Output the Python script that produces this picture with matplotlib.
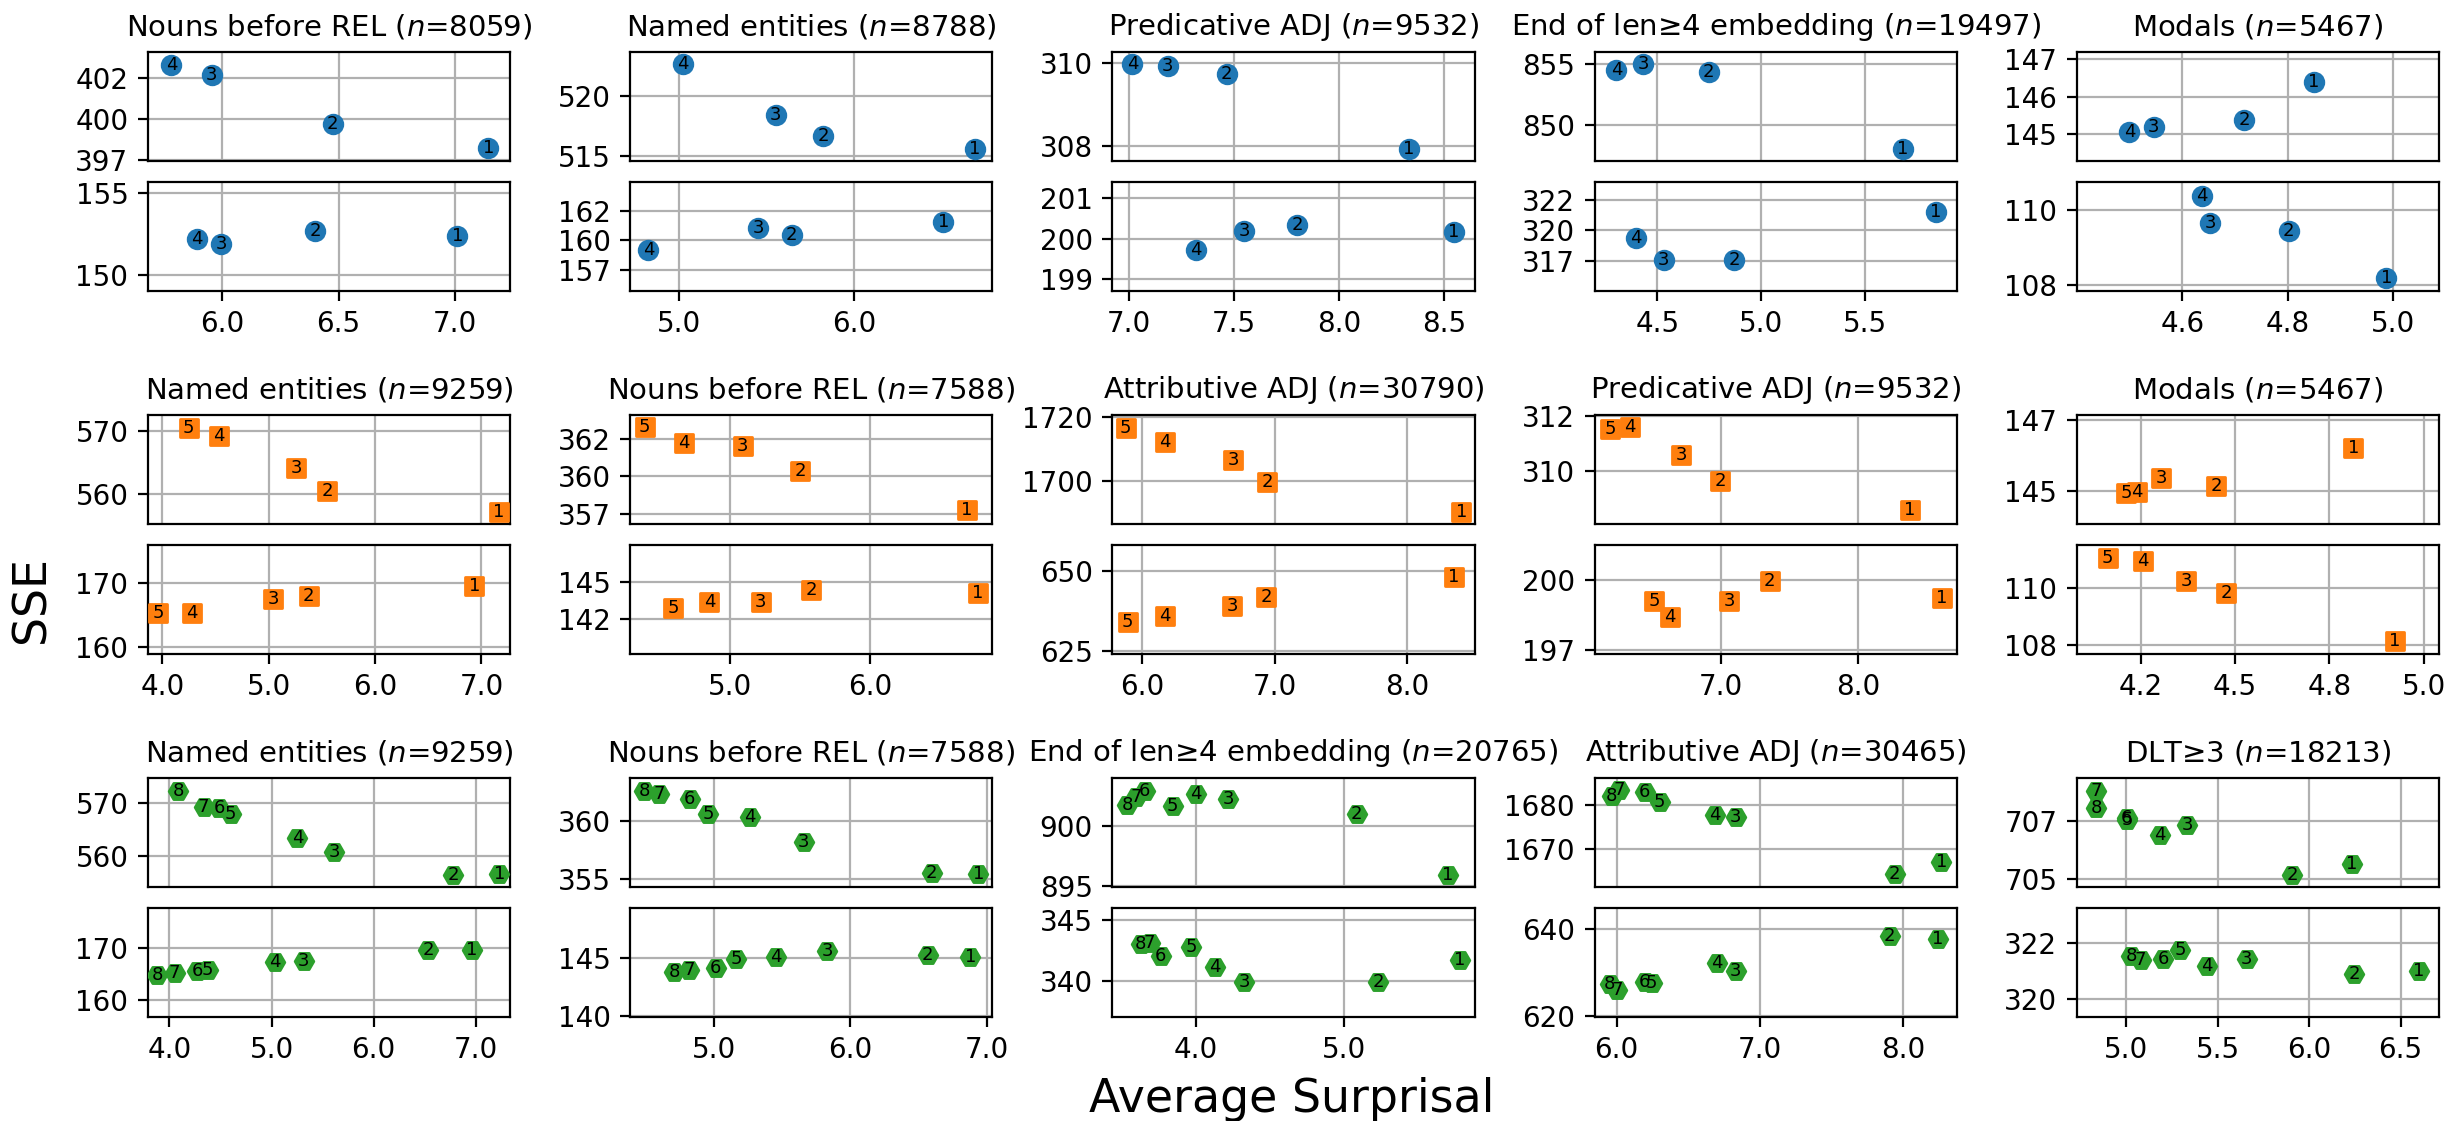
import matplotlib
matplotlib.use("Agg")
import matplotlib.pyplot as plt
from matplotlib.gridspec import GridSpec, GridSpecFromSubplotSpec
from matplotlib.ticker import FormatStrFormatter

# ---------- данные ----------------------------------------------------------
# точки в порядке меток 1..N
R1_TITLES = ["Nouns before REL", "Named entities", "Predicative ADJ",
             "End of len≥4 embedding", "Modals"]
R1_N = [8059, 8788, 9532, 19497, 5467]
R1_TOP_X = [[7.142, 6.475, 5.956, 5.784], [6.690, 5.824, 5.554, 5.025],
            [8.333, 7.463, 7.183, 7.015], [5.681, 4.746, 4.431, 4.302],
            [4.849, 4.718, 4.546, 4.500]]
R1_TOP_Y = [[398.55, 399.76, 402.12, 402.63], [515.54, 516.63, 518.37, 522.59],
            [307.94, 309.74, 309.94, 309.97], [848.06, 854.35, 855.00, 854.47],
            [146.39, 145.39, 145.20, 145.06]]
R1_BOT_X = [[7.010, 6.401, 5.998, 5.894], [6.510, 5.644, 5.454, 4.828],
            [8.547, 7.800, 7.547, 7.318], [5.842, 4.871, 4.531, 4.398],
            [4.987, 4.802, 4.653, 4.638]]
R1_BOT_Y = [[152.35, 152.69, 151.91, 152.19], [161.25, 160.34, 160.87, 159.33],
            [200.15, 200.33, 200.19, 199.72], [321.18, 318.05, 318.05, 319.48],
            [108.19, 109.45, 109.66, 110.38]]

R2_TITLES = ["Named entities", "Nouns before REL", "Attributive ADJ",
             "Predicative ADJ", "Modals"]
R2_N = [9259, 7588, 30790, 9532, 5467]
R2_TOP_X = [[7.166, 5.548, 5.261, 4.533, 4.246], [6.685, 5.498, 5.089, 4.670, 4.392],
            [8.406, 6.944, 6.688, 6.173, 5.875], [8.379, 6.995, 6.709, 6.335, 6.188],
            [4.814, 4.450, 4.304, 4.240, 4.212]]
R2_TOP_Y = [[557.20, 560.42, 564.05, 569.10, 570.42], [358.19, 360.27, 361.62, 361.81, 362.65],
            [1690.1, 1699.5, 1706.5, 1712.0, 1716.5], [308.53, 309.63, 310.58, 311.60, 311.53],
            [146.21, 145.16, 145.37, 144.99, 144.94]]
R2_BOT_X = [[6.935, 5.377, 5.045, 4.281, 3.960], [6.766, 5.577, 5.220, 4.854, 4.596],
            [8.350, 6.936, 6.680, 6.169, 5.891], [8.610, 7.355, 7.059, 6.626, 6.513],
            [4.923, 4.477, 4.371, 4.256, 4.162]]
R2_BOT_Y = [[169.43, 167.98, 167.41, 165.28, 165.28], [144.23, 144.42, 143.65, 143.65, 143.22],
            [648.0, 641.8, 639.2, 635.9, 634.0], [199.36, 199.95, 199.23, 198.66, 199.23],
            [108.13, 109.82, 110.26, 110.94, 111.05]]

R3_TITLES = ["Named entities", "Nouns before REL", "End of len≥4 embedding",
             "Attributive ADJ", "DLT≥3"]
R3_N = [9259, 7588, 20765, 30465, 18213]
R3_TOP_X = [[7.230, 6.776, 5.615, 5.254, 4.601, 4.486, 4.335, 4.089],
            [6.934, 6.593, 5.660, 5.267, 4.961, 4.826, 4.602, 4.494],
            [5.701, 5.086, 4.219, 4.004, 3.845, 3.658, 3.601, 3.540],
            [8.269, 7.942, 6.833, 6.686, 6.302, 6.197, 6.016, 5.967],
            [6.235, 5.907, 5.333, 5.184, 5.003, 5.003, 4.837, 4.837]]
R3_TOP_Y = [[556.54, 556.42, 560.69, 563.27, 567.92, 569.12, 569.25, 572.33],
            [355.43, 355.49, 358.21, 360.43, 360.68, 361.98, 362.41, 362.65],
            [895.94, 901.03, 902.31, 902.67, 901.72, 902.97, 902.44, 901.81],
            [1667.0, 1664.2, 1677.3, 1677.8, 1680.8, 1683.0, 1683.5, 1682.2],
            [705.53, 705.14, 706.88, 706.51, 707.05, 707.12, 708.08, 707.47]]
R3_BOT_X = [[6.960, 6.532, 5.314, 5.031, 4.376, 4.272, 4.052, 3.880],
            [6.877, 6.563, 5.829, 5.456, 5.167, 5.017, 4.823, 4.713],
            [5.780, 5.230, 4.327, 4.129, 3.971, 3.766, 3.691, 3.629],
            [8.243, 7.908, 6.832, 6.702, 6.246, 6.197, 6.002, 5.951],
            [6.599, 6.247, 5.658, 5.440, 5.294, 5.201, 5.079, 5.026]]
R3_BOT_Y = [[169.62, 169.62, 167.56, 167.37, 165.77, 165.58, 165.26, 164.74],
            [145.06, 145.25, 145.62, 145.06, 144.94, 144.14, 143.95, 143.83],
            [341.73, 339.86, 339.92, 341.13, 342.77, 342.06, 343.13, 343.02],
            [637.78, 638.46, 630.43, 632.14, 627.52, 627.86, 625.98, 627.35],
            [321.01, 320.88, 321.41, 321.18, 321.72, 321.41, 321.38, 321.52]]

# оси: пределы и деления
XLIMS = [[(5.683, 7.236), (4.724, 6.789), (6.919, 8.645), (4.197, 5.942), (4.400, 5.087)],
         [(3.864, 7.271), (4.289, 6.868), (5.775, 8.507), (6.076, 8.721), (4.080, 5.041)],
         [(3.791, 7.335), (4.391, 7.037), (3.439, 5.881), (5.846, 8.377), (4.729, 6.710)]]
XTICKS = [[[6.0, 6.5, 7.0], [5.0, 6.0], [7.0, 7.5, 8.0, 8.5], [4.5, 5.0, 5.5], [4.6, 4.8, 5.0]],
          [[4.0, 5.0, 6.0, 7.0], [5.0, 6.0], [6.0, 7.0, 8.0], [7.0, 8.0], [4.25, 4.5, 4.75, 5.0]],
          [[4.0, 5.0, 6.0, 7.0], [5.0, 6.0, 7.0], [4.0, 5.0], [6.0, 7.0, 8.0], [5.0, 5.5, 6.0, 6.5]]]
TOP_YLIMS = [[(397.94, 403.25), (514.58, 523.6), (307.64, 310.27), (847.12, 855.94), (144.29, 147.18)],
             [(555.26, 572.47), (357.45, 363.3), (1686.5, 1720.5), (308.03, 312.05), (144.08, 147.14)],
             [(554.1, 574.7), (354.32, 363.77), (894.92, 904.03), (1661.17, 1686.33), (704.71, 708.52)]]
BOT_YLIMS = [[(149.06, 155.64), (156.6, 163.93), (198.71, 201.39), (316.02, 323.18), (107.85, 110.76)],
             [(158.91, 175.85), (140.19, 147.45), (624.2, 658.1), (197.35, 201.24), (107.68, 111.51)],
             [(156.8, 177.63), (139.95, 149.26), (337.03, 345.96), (619.66, 644.96), (319.37, 323.22)]]
TOP_YTICKS = [[[398, 400, 402], [515, 520], [308, 310], [850, 855], [145, 146, 147]],
              [[560, 570], [358, 360, 362], [1700, 1720], [310, 312], [145, 147]],
              [[560, 570], [355, 360], [895, 900], [1670, 1680], [705, 707]]]
TOP_YLABELS = [[["397", "400", "402"], ["515", "520"], ["308", "310"], ["850", "855"], ["145", "146", "147"]],
               [["560", "570"], ["357", "360", "362"], ["1700", "1720"], ["310", "312"], ["145", "147"]],
               [["560", "570"], ["355", "360"], ["895", "900"], ["1670", "1680"], ["705", "707"]]]
BOT_YTICKS = [[[150, 155], [158, 160, 162], [199, 200, 201], [318, 320, 322], [108, 110]],
              [[160, 170], [142.5, 145], [625, 650], [197.5, 200], [108, 110]],
              [[160, 170], [140, 145], [340, 345], [620, 640], [320, 322]]]
BOT_YLABELS = [[["150", "155"], ["157", "160", "162"], ["199", "200", "201"], ["317", "320", "322"], ["108", "110"]],
               [["160", "170"], ["142", "145"], ["625", "650"], ["197", "200"], ["108", "110"]],
               [["160", "170"], ["140", "145"], ["340", "345"], ["620", "640"], ["320", "322"]]]

ROWS = [
    (R1_TITLES, R1_N, R1_TOP_X, R1_TOP_Y, R1_BOT_X, R1_BOT_Y),
    (R2_TITLES, R2_N, R2_TOP_X, R2_TOP_Y, R2_BOT_X, R2_BOT_Y),
    (R3_TITLES, R3_N, R3_TOP_X, R3_TOP_Y, R3_BOT_X, R3_BOT_Y),
]
MARKERS = ["o", "s", "H"]
COLORS = ["tab:blue", "tab:orange", "tab:green"]


# ---------- построение -------------------------------------------------------
def _scatter_labels(ax, xs, ys, marker, color):
    ax.scatter(xs, ys, s=45, marker=marker, color=color, zorder=3)
    for i, (x, y) in enumerate(zip(xs, ys)):
        ax.text(x, y, str(i + 1), fontsize=6.5, ha="center", va="center", zorder=4)


fig = plt.figure(figsize=(12.265, 5.605), dpi=200)
outer = GridSpec(3, 5, figure=fig, left=0.0603, right=0.9943, top=0.9536,
                 bottom=0.0928, wspace=0.331, hspace=0.519)

for r, (titles, ns, tx, ty, bx, by) in enumerate(ROWS):
    for c in range(5):
        inner = GridSpecFromSubplotSpec(2, 1, subplot_spec=outer[r, c], hspace=0.193)
        ax_t = fig.add_subplot(inner[0])
        ax_b = fig.add_subplot(inner[1], sharex=ax_t)

        _scatter_labels(ax_t, tx[c], ty[c], MARKERS[r], COLORS[r])
        _scatter_labels(ax_b, bx[c], by[c], MARKERS[r], COLORS[r])

        ax_t.set_title(f"{titles[c]} ($n$={ns[c]})", fontsize=10.5)
        ax_b.set_xticks(XTICKS[r][c])
        ax_b.set_xlim(*XLIMS[r][c])
        ax_b.xaxis.set_major_formatter(FormatStrFormatter("%.1f"))
        ax_t.tick_params(axis="x", bottom=False, labelbottom=False)

        ax_t.set_ylim(*TOP_YLIMS[r][c])
        ax_t.set_yticks(TOP_YTICKS[r][c], TOP_YLABELS[r][c])
        ax_b.set_ylim(*BOT_YLIMS[r][c])
        ax_b.set_yticks(BOT_YTICKS[r][c], BOT_YLABELS[r][c])

        for ax in (ax_t, ax_b):
            ax.grid(True)
            ax.set_axisbelow(True)
            ax.tick_params(labelsize=10)

fig.text(0.013, 0.465, "SSE", rotation=90, fontsize=16.5, ha="center", va="center")
fig.text(0.5267, 0.019, "Average Surprisal", fontsize=16.5, ha="center", va="center")

fig.savefig("out.png", dpi=200)
